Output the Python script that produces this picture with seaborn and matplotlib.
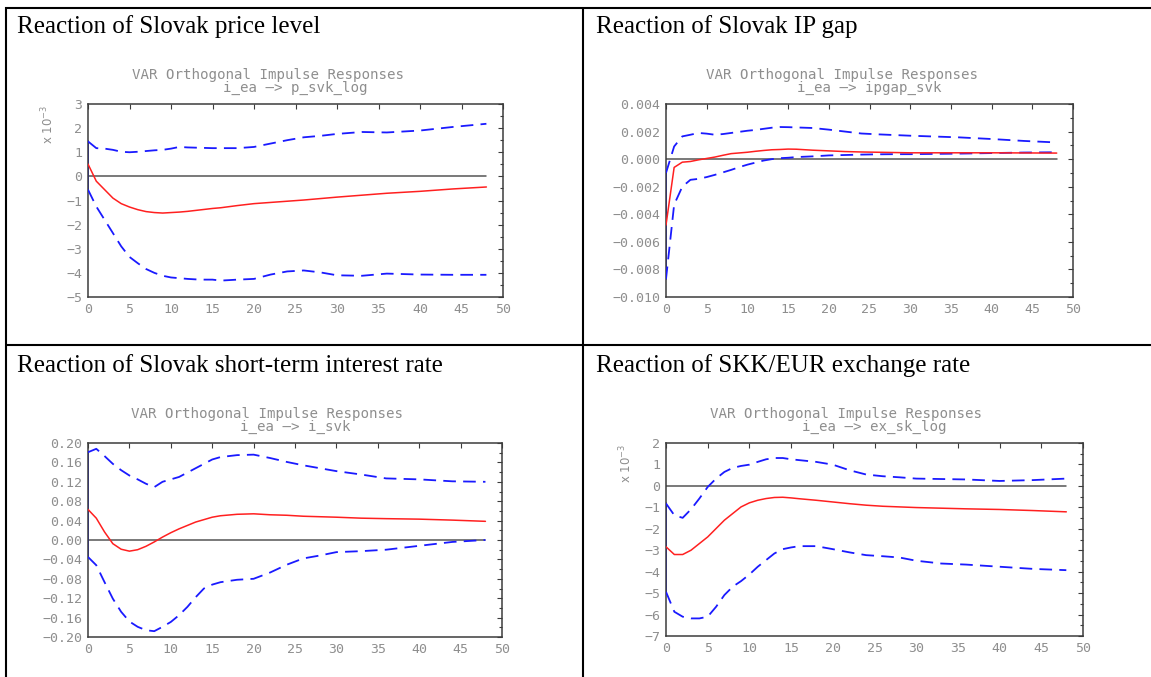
import seaborn as sns
import matplotlib.pyplot as plt
import pandas as pd
from matplotlib.lines import Line2D
from matplotlib.ticker import FixedLocator, FuncFormatter

horizon = [0, 1, 2, 3, 4, 5, 6, 7, 8, 9, 10, 11, 12, 13, 14, 15, 16, 18, 20,
           22, 24, 26, 28, 30, 33, 36, 40, 44, 48]

# price level (x 10^-3)
price_resp = [0.51, -0.2, -0.55, -0.9, -1.13, -1.27, -1.38, -1.46, -1.5, -1.52, -1.5, -1.48, -1.45, -1.41,
              -1.37, -1.33, -1.3, -1.21, -1.13, -1.08, -1.03, -0.98, -0.92, -0.86, -0.78, -0.7, -0.62, -0.52, -0.44]
price_upper = [1.45, 1.17, 1.15, 1.1, 1.02, 1.0, 1.02, 1.05, 1.08, 1.1, 1.15, 1.22, 1.2, 1.19,
               1.18, 1.17, 1.17, 1.17, 1.22, 1.36, 1.5, 1.62, 1.68, 1.76, 1.84, 1.82, 1.9, 2.05, 2.18]
price_lower = [-0.55, -1.25, -1.8, -2.35, -2.9, -3.34, -3.6, -3.84, -4.0, -4.12, -4.19, -4.22, -4.25, -4.27,
               -4.28, -4.28, -4.32, -4.28, -4.25, -4.07, -3.94, -3.9, -3.98, -4.1, -4.12, -4.03, -4.07, -4.08, -4.08]

# IP gap
ipgap_resp = [-0.00478, -0.0006, -0.00022, -0.00017, -0.00005, 0.00005, 0.00015, 0.00028, 0.0004, 0.00045,
              0.0005, 0.00057, 0.00063, 0.00068, 0.0007, 0.00073, 0.00072, 0.00065, 0.0006, 0.00055,
              0.00052, 0.0005, 0.00048, 0.00046, 0.00046, 0.00046, 0.00046, 0.00045, 0.00044]
ipgap_upper = [-0.001, 0.00092, 0.00165, 0.00177, 0.0019, 0.00185, 0.00177, 0.00182, 0.0019, 0.00198,
               0.00206, 0.00212, 0.0022, 0.00228, 0.00233, 0.00232, 0.0023, 0.00226, 0.00214, 0.002,
               0.00186, 0.0018, 0.00175, 0.0017, 0.00164, 0.00158, 0.00146, 0.00132, 0.00121]
ipgap_lower = [-0.0087, -0.0033, -0.002, -0.0015, -0.00143, -0.0013, -0.00114, -0.00096, -0.00078, -0.00058,
               -0.0004, -0.00025, -0.0001, 0.0, 0.00007, 0.0001, 0.00015, 0.0002, 0.00027, 0.0003,
               0.00033, 0.00035, 0.00036, 0.00036, 0.00038, 0.0004, 0.00044, 0.00048, 0.0005]

# short-term interest rate
rate_resp = [0.063, 0.045, 0.0165, -0.0076, -0.019, -0.023, -0.02, -0.013, -0.004, 0.006, 0.015, 0.023, 0.03,
             0.037, 0.042, 0.047, 0.05, 0.053, 0.054, 0.052, 0.051, 0.049, 0.048, 0.047, 0.045, 0.044,
             0.043, 0.041, 0.0385]
rate_upper = [0.181, 0.188, 0.173, 0.157, 0.144, 0.133, 0.125, 0.116, 0.109, 0.12, 0.125, 0.13, 0.139, 0.148,
              0.157, 0.166, 0.171, 0.175, 0.176, 0.169, 0.161, 0.154, 0.148, 0.142, 0.135, 0.127, 0.125,
              0.121, 0.12]
rate_lower = [-0.035, -0.052, -0.087, -0.121, -0.148, -0.168, -0.179, -0.186, -0.188, -0.179, -0.169, -0.155,
              -0.138, -0.118, -0.1, -0.092, -0.087, -0.082, -0.08, -0.067, -0.051, -0.038, -0.032, -0.025,
              -0.023, -0.02, -0.012, -0.004, 0.0]

# SKK/EUR exchange rate (x 10^-3)
fx_resp = [-2.84, -3.2, -3.2, -3.0, -2.69, -2.38, -1.99, -1.6, -1.29, -0.98, -0.79, -0.67, -0.59, -0.54,
           -0.53, -0.56, -0.6, -0.67, -0.75, -0.83, -0.9, -0.95, -0.98, -1.01, -1.04, -1.07, -1.1, -1.15, -1.21]
fx_upper = [-0.82, -1.37, -1.49, -1.09, -0.59, -0.05, 0.34, 0.65, 0.84, 0.93, 0.99, 1.12, 1.24, 1.3,
            1.3, 1.24, 1.2, 1.12, 0.99, 0.73, 0.53, 0.45, 0.4, 0.34, 0.32, 0.3, 0.23, 0.27, 0.34]
fx_lower = [-4.94, -5.87, -6.1, -6.18, -6.18, -6.1, -5.64, -5.09, -4.7, -4.44, -4.13, -3.77, -3.46, -3.15,
            -2.95, -2.87, -2.81, -2.81, -2.95, -3.1, -3.23, -3.28, -3.34, -3.49, -3.62, -3.67, -3.77, -3.87, -3.93]

captions = ["Reaction of Slovak price level", "Reaction of Slovak IP gap",
            "Reaction of Slovak short-term interest rate", "Reaction of SKK/EUR exchange rate"]
subtitles = ["i_ea -> p_svk_log", "i_ea -> ipgap_svk", "i_ea -> i_svk", "i_ea -> ex_sk_log"]
main_title = "VAR Orthogonal Impulse Responses"

yticks_list = [list(range(-5, 4)),
               [-0.010, -0.008, -0.006, -0.004, -0.002, 0.0, 0.002, 0.004],
               [-0.20, -0.16, -0.12, -0.08, -0.04, 0.0, 0.04, 0.08, 0.12, 0.16, 0.20],
               list(range(-7, 3))]
ydecimals = [0, 3, 2, 0]
xticks = list(range(0, 55, 5))

series = [(price_resp, price_upper, price_lower),
          (ipgap_resp, ipgap_upper, ipgap_lower),
          (rate_resp, rate_upper, rate_lower),
          (fx_resp, fx_upper, fx_lower)]
has_exponent = [True, False, False, True]

W, H = 1151, 677
# axes boxes in pixels: left, top, right, bottom
boxes = [(88, 104, 503, 297), (666, 104, 1073, 297), (88, 443, 502, 637), (666, 443, 1083, 636)]
caption_pos = [(17, 33), (596, 33), (17, 372), (596, 372)]

sns.set_style("white")
plt.rcParams['font.family'] = ['DejaVu Sans']

fig = plt.figure(figsize=(W / 100, H / 100), dpi=100)
fig.patch.set_facecolor("white")


def fx(x):
    return x / W


def fy(y):
    return 1 - y / H


gray_txt = "#8e8e8e"
frame = "#3c3c3c"
band = (0, (7, 4))

for i in range(4):
    l, t, r, b = boxes[i]
    ax = fig.add_axes([fx(l), fy(b), (r - l) / W, (b - t) / H])
    resp, up, lo = series[i]
    df = pd.DataFrame({"h": horizon, "resp": resp, "up": up, "lo": lo})

    ax.axhline(0, xmin=0, xmax=48 / 50, color="#555555", lw=1.1, zorder=1)
    # band edge joining the two bounds at impact
    ax.plot([0, 0], [lo[0], up[0]], color="#0000ff", lw=1.2, zorder=2)
    sns.lineplot(data=df, x="h", y="up", ax=ax, color="#1a1aff", lw=1.3, linestyle=band, zorder=3)
    sns.lineplot(data=df, x="h", y="lo", ax=ax, color="#1a1aff", lw=1.3, linestyle=band, zorder=3)
    sns.lineplot(data=df, x="h", y="resp", ax=ax, color="#ff2020", lw=1.1, zorder=4)

    yt = yticks_list[i]
    ax.set_xlim(0, 50)
    ax.set_ylim(yt[0], yt[-1])
    ax.xaxis.set_major_locator(FixedLocator(xticks))
    ax.yaxis.set_major_locator(FixedLocator(yt))
    step = yt[1] - yt[0]
    ax.yaxis.set_minor_locator(FixedLocator([v + step / 2 for v in yt[:-1]]))
    d = ydecimals[i]
    ax.yaxis.set_major_formatter(FuncFormatter(
        lambda v, p, d=d: (f"{v:.{d}f}" if abs(v) > 1e-12 else f"{0:.{d}f}").replace("-", "\u2212")))
    ax.set_xlabel("")
    ax.set_ylabel("")
    ax.tick_params(which="both", direction="in", top=True, right=True, color=frame,
                   labelcolor=gray_txt, labelsize=9.5, pad=4)
    ax.tick_params(which="major", length=3.5, width=0.8)
    ax.tick_params(which="minor", length=2, width=0.8)
    for lab in ax.get_xticklabels() + ax.get_yticklabels():
        lab.set_family("DejaVu Sans Mono")
    for s in ax.spines.values():
        s.set_color(frame)
        s.set_linewidth(1.1)

    cx = (l + r) / 2
    fig.text(fx(cx - 28), fy(t - 29), main_title, ha="center", va="center",
             family="DejaVu Sans Mono", fontsize=10.2, color=gray_txt)
    fig.text(fx(cx), fy(t - 16), subtitles[i].replace("->", "\u2013>"), ha="center", va="center",
             family="DejaVu Sans Mono", fontsize=10.2, color=gray_txt)
    if has_exponent[i]:
        fig.text(fx(l - 40), fy(t + 20), r"x 10$^{-3}$", rotation=90, ha="center", va="center",
                 fontsize=8.5, color=gray_txt)

    cx0, cy0 = caption_pos[i]
    fig.text(fx(cx0), fy(cy0), captions[i], ha="left", va="baseline",
             family="Liberation Serif", fontsize=18, color="black")

# table rules
rule = dict(color="black", lw=1.5, solid_capstyle="butt")
fig.add_artist(Line2D([fx(5), fx(1151)], [fy(7.5), fy(7.5)], **rule))
fig.add_artist(Line2D([fx(5), fx(1151)], [fy(345), fy(345)], **rule))
fig.add_artist(Line2D([fx(6), fx(6)], [fy(7), fy(677)], **rule))
fig.add_artist(Line2D([fx(582.5), fx(582.5)], [fy(7), fy(677)], **rule))

fig.savefig("out.png", dpi=100)
